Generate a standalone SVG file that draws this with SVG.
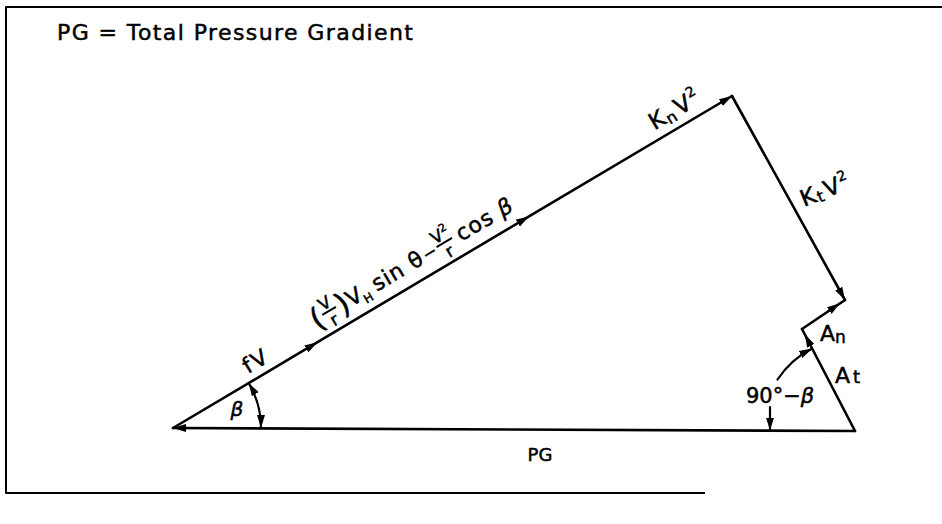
<svg xmlns="http://www.w3.org/2000/svg" width="942" height="524" viewBox="0 0 942 524">
<style>
.ln{fill:none;stroke:#000;stroke-width:2.6;stroke-linecap:round;stroke-linejoin:round}
.arc{fill:none;stroke:#000;stroke-width:2.2;stroke-linecap:round}
.t{font-family:"DejaVu Sans","Liberation Sans",sans-serif;fill:#000;stroke:#000;stroke-width:0.5px;font-size:22px}
.bar{stroke:#000;stroke-width:2}
.it{font-style:italic}
</style>
<defs>
<marker id="ah" markerUnits="userSpaceOnUse" markerWidth="16" markerHeight="10" refX="13" refY="4.5" orient="auto-start-reverse"><path d="M0,0.5 L13,4.5 L0,8.5 z" fill="#000"/></marker>
<marker id="ahi" markerUnits="userSpaceOnUse" markerWidth="22" markerHeight="10" refX="19" refY="4.5" orient="auto"><path d="M0,0.5 L13,4.5 L0,8.5 z" fill="#000"/></marker>
</defs>
<rect width="942" height="524" fill="#fff"/>
<path class="ln" style="stroke-width:2;stroke-linecap:butt" d="M942,7 H6 V493 H705"/>
<g id="title"><text class="t" x="57" y="40" textLength="356" lengthAdjust="spacing" style="font-size:22px">PG = Total Pressure Gradient</text></g>

<g id="connectors">
<path class="ln" d="M173,428 L317.5,342.2 L529,216.4 L732,96" marker-mid="url(#ah)" marker-end="url(#ah)"/>
<path class="ln" d="M855,431 L173,428" marker-end="url(#ah)"/>
<path class="ln" d="M732,96 L845,300" marker-end="url(#ah)"/>
<path class="ln" d="M802,329 L845,300" marker-end="url(#ahi)"/>
<path class="ln" d="M855,431 L802,329" marker-end="url(#ahi)"/>
<path class="arc" d="M248.7,383 A88,88 0 0 1 261,428" marker-start="url(#ah)" marker-end="url(#ah)"/>
<path class="arc" d="M777.5,379.5 A93,93 0 0 1 812.1,348.5" marker-end="url(#ah)"/>
<path class="arc" d="M770,407 L770,430.5" marker-end="url(#ah)"/>
</g>

<g id="label-main" transform="translate(173,428) rotate(-30.7)">
<text class="t" x="174" y="-10" style="font-size:30px">(</text>
<text class="t" x="194" y="-24" text-anchor="middle" style="font-size:17px">V</text>
<line class="bar" x1="186" y1="-21" x2="202" y2="-21"/>
<text class="t" x="194" y="-5" text-anchor="middle" style="font-size:17px">r</text>
<text class="t" x="203" y="-10" style="font-size:30px">)</text>
<text class="t" x="215" y="-13">V</text>
<text class="t" x="230" y="-8" style="font-size:12px">H</text>
<text class="t" x="245" y="-13" letter-spacing="1">sin θ</text>
<text class="t" x="303" y="-14" style="font-size:17px">−</text>
<text class="t" x="328" y="-24" text-anchor="middle" style="font-size:17px">V<tspan dy="-7" style="font-size:11px">2</tspan></text>
<line class="bar" x1="319" y1="-21" x2="337" y2="-21"/>
<text class="t" x="328" y="-5" text-anchor="middle" style="font-size:17px">r</text>
<text class="t" x="343" y="-13" letter-spacing="1">cos <tspan class="it">β</tspan></text>
</g>

<g id="label-fV" transform="translate(173,428) rotate(-30.7)">
<text class="t" x="92" y="-8" letter-spacing="2">fV</text>
</g>

<g id="label-KnV2" transform="translate(173,428) rotate(-30.7)">
<text class="t" x="566" y="-10" letter-spacing="1" style="font-size:23px">K<tspan dy="3" style="font-size:16px">n</tspan><tspan dy="-3" dx="2">V</tspan><tspan dy="-10" style="font-size:14px">2</tspan></text>
</g>

<g id="label-KtV2" transform="translate(804,207) rotate(-22)">
<text class="t" x="0" y="0" letter-spacing="1" style="font-size:23px">K<tspan dy="2" style="font-size:16px">t</tspan><tspan dy="-2" dx="2">V</tspan><tspan dy="-10" style="font-size:14px">2</tspan></text>
</g>

<g id="label-An"><text class="t" x="820" y="341">A<tspan dy="2" style="font-size:17px">n</tspan></text></g>
<g id="label-At"><text class="t" x="835" y="383">A<tspan dx="3" style="font-size:18px">t</tspan></text></g>
<g id="label-angle2"><text class="t" x="746" y="403" style="font-size:21px">90°−<tspan class="it">β</tspan></text></g>
<g id="label-beta"><text class="t it" x="237" y="416" text-anchor="middle" style="font-size:20px">β</text></g>
<g id="label-PG"><text class="t" x="540" y="461" text-anchor="middle" style="font-size:18px">PG</text></g>
</svg>
